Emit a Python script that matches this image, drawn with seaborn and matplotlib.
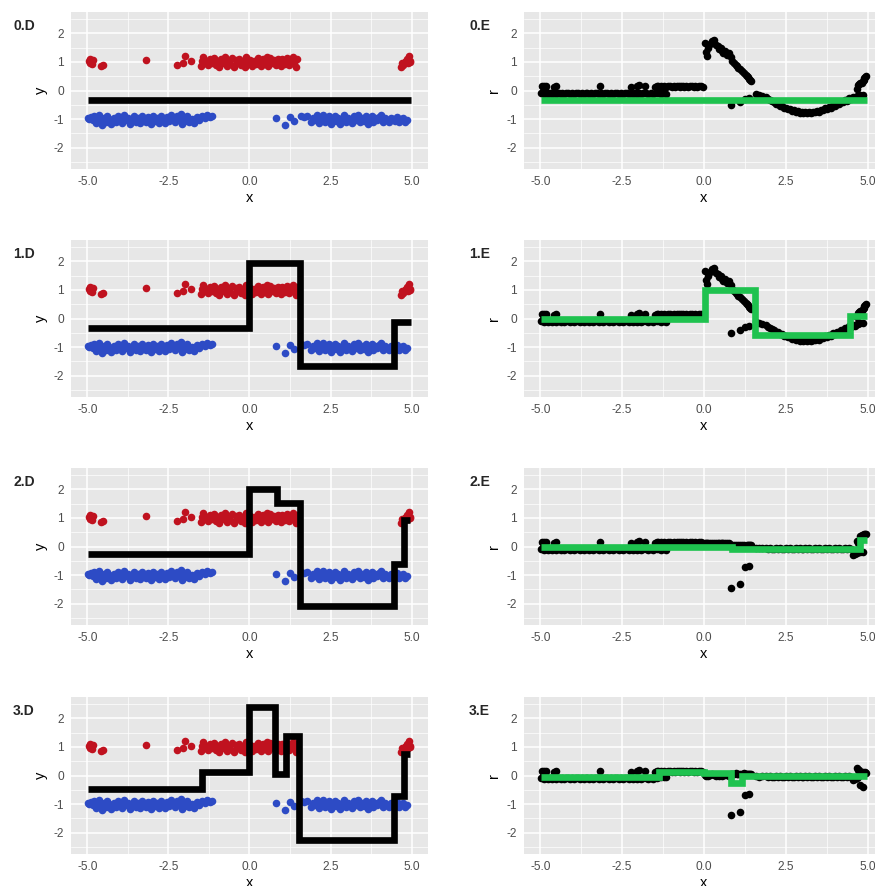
import pandas as pd
import matplotlib.pyplot as plt
import seaborn as sns

# --- points with label +1 (red): x, jittered y, residual r in E panels ---
red_x = [-4.95, -4.92, -4.9, -4.87, -4.85, -4.82, -4.57, -4.52, -3.18, -2.24,
         -2.05, -2.0, -1.8, -1.5, -1.45, -1.42, -1.38, -1.32, -1.27, -1.22,
         -1.15, -1.1, -1.04, -0.98, -0.93, -0.88, -0.82, -0.76, -0.72, -0.7,
         -0.65, -0.6, -0.54, -0.48, -0.43, -0.37, -0.32, -0.26, -0.2, -0.15,
         -0.1, -0.04, 0.02, 0.05, 0.08, 0.13, 0.19, 0.25, 0.3, 0.36,
         0.42, 0.47, 0.53, 0.55, 0.58, 0.64, 0.7, 0.75, 0.81, 0.87,
         0.92, 0.98, 1.0, 1.04, 1.1, 1.16, 1.22, 1.28, 1.3, 1.33,
         1.38, 1.42, 1.45, 4.66, 4.7, 4.73, 4.78, 4.82, 4.86, 4.88,
         4.9, 4.93, 4.96]
red_y = [1.05, 0.98, 1.12, 1.0, 0.92, 1.08, 0.85, 0.88, 1.08, 0.9,
         0.98, 1.2, 1.05, 0.85, 1.02, 1.18, 0.95, 1.05, 0.88, 1.12,
         0.98, 1.15, 0.9, 1.05, 0.83, 1.12, 0.97, 1.18, 1.0, 0.86,
         1.03, 0.92, 1.15, 0.84, 1.06, 0.95, 1.1, 0.88, 1.02, 0.83,
         1.16, 0.95, 1.08, 0.95, 0.87, 1.04, 0.92, 1.13, 0.98, 0.85,
         1.1, 0.94, 1.02, 1.18, 0.86, 1.15, 0.96, 1.07, 0.88, 1.12,
         0.99, 0.85, 1.1, 1.05, 0.93, 1.14, 0.9, 1.08, 0.95, 1.16,
         0.96, 0.84, 1.12, 0.82, 0.95, 0.9, 1.0, 1.05, 1.12, 0.95,
         1.2, 1.0, 1.02]
red_r0 = [0.15, 0.12, 0.17, 0.14, 0.1, 0.16, 0.13, 0.15, 0.15, 0.12,
          0.15, 0.18, 0.15, 0.13, 0.16, 0.15, 0.12, 0.17, 0.14, 0.16,
          0.13, 0.15, 0.17, 0.14, 0.16, 0.13, 0.15, 0.17, 0.14, 0.16,
          0.15, 0.13, 0.17, 0.14, 0.16, 0.15, 0.13, 0.17, 0.14, 0.16,
          0.15, 0.13, 1.65, 1.35, 1.2, 1.5, 1.62, 1.72, 1.78, 1.6,
          1.55, 1.45, 1.5, 1.38, 1.3, 1.4, 1.25, 1.3, 1.18, 1.05,
          0.98, 0.9, 0.85, 0.8, 0.75, 0.7, 0.62, 0.55, 0.52, 0.48,
          0.42, 0.38, 0.35, 0.05, 0.2, 0.22, 0.25, 0.28, 0.35, 0.38,
          0.45, 0.48, 0.52]
red_r2 = [0.15, 0.12, 0.17, 0.14, 0.1, 0.16, 0.13, 0.15, 0.15, 0.12,
          0.15, 0.18, 0.15, 0.13, 0.16, 0.15, 0.12, 0.17, 0.14, 0.16,
          0.13, 0.15, 0.17, 0.14, 0.16, 0.13, 0.15, 0.17, 0.14, 0.16,
          0.15, 0.13, 0.17, 0.14, 0.16, 0.15, 0.13, 0.17, 0.14, 0.16,
          0.15, 0.13, 0.14, 0.12, 0.13, 0.11, 0.14, 0.12, 0.13, 0.11,
          0.14, 0.12, 0.13, 0.11, 0.14, 0.12, 0.13, 0.11, 0.06, 0.04,
          0.07, 0.05, 0.03, 0.06, 0.04, 0.07, 0.05, 0.03, 0.06, 0.04,
          0.07, 0.05, 0.04, 0.2, 0.12, 0.15, 0.38, 0.4, 0.42, 0.4,
          0.44, 0.45, 0.43]
red_r3 = [0.15, 0.12, 0.17, 0.14, 0.1, 0.16, 0.13, 0.15, 0.15, 0.12,
          0.15, 0.18, 0.15, 0.12, 0.15, 0.15, 0.12, 0.17, 0.14, 0.16,
          0.13, 0.15, 0.17, 0.14, 0.16, 0.13, 0.15, 0.17, 0.14, 0.16,
          0.15, 0.13, 0.17, 0.14, 0.16, 0.15, 0.13, 0.17, 0.14, 0.16,
          0.15, 0.13, 0.02, 0.0, 0.03, -0.01, 0.02, 0.04, 0.01, -0.02,
          0.03, 0.0, 0.02, -0.01, 0.03, 0.01, 0.02, -0.02, 0.05, 0.07,
          0.06, 0.08, 0.05, 0.07, 0.04, 0.06, 0.08, 0.05, 0.07, 0.04,
          0.06, 0.05, 0.07, 0.25, 0.2, 0.18, 0.12, 0.1, 0.11, 0.09,
          0.1, 0.12, 0.1]

# --- points with label -1 (blue) ---
blue_x = [-4.98, -4.93, -4.88, -4.83, -4.78, -4.73, -4.68, -4.63, -4.58, -4.53,
          -4.48, -4.43, -4.38, -4.33, -4.28, -4.22, -4.16, -4.1, -4.04, -3.98,
          -3.92, -3.86, -3.8, -3.74, -3.68, -3.62, -3.56, -3.5, -3.44, -3.38,
          -3.32, -3.26, -3.2, -3.14, -3.08, -3.02, -2.96, -2.9, -2.84, -2.78,
          -2.72, -2.66, -2.6, -2.54, -2.48, -2.42, -2.36, -2.3, -2.24, -2.18,
          -2.12, -2.08, -2.04, -1.98, -1.92, -1.85, -1.78, -1.7, -1.62, -1.55,
          -1.45, -1.38, -1.3, -1.22, -1.15, 0.82, 1.09, 1.25, 1.37, 1.6,
          1.68, 1.76, 1.9, 1.96, 2.02, 2.08, 2.14, 2.2, 2.26, 2.32,
          2.38, 2.44, 2.5, 2.56, 2.62, 2.68, 2.74, 2.8, 2.86, 2.92,
          2.98, 3.04, 3.1, 3.16, 3.22, 3.28, 3.34, 3.4, 3.46, 3.52,
          3.58, 3.64, 3.7, 3.76, 3.82, 3.88, 3.94, 4.0, 4.06, 4.12,
          4.18, 4.24, 4.3, 4.36, 4.42, 4.48, 4.54, 4.6, 4.66, 4.72,
          4.78, 4.85]
blue_y = [-0.95, -1.0, -0.92, -1.05, -0.9, -1.15, -1.0, -0.85, -1.08, -1.2,
          -0.95, -1.12, -0.88, -1.0, -1.18, -1.05, -0.98, -1.12, -0.9, -1.02,
          -1.15, -0.85, -1.05, -0.95, -1.18, -1.0, -0.88, -1.1, -0.97, -1.15,
          -0.9, -1.05, -1.12, -0.93, -1.0, -1.16, -0.88, -1.08, -0.97, -1.13,
          -0.9, -1.03, -1.15, -0.92, -1.06, -0.85, -1.0, -1.12, -0.9, -1.05,
          -0.82, -1.18, -0.95, -1.08, -0.9, -1.12, -1.0, -1.15, -0.92, -1.05,
          -0.88, -0.98, -0.85, -0.92, -0.9, -0.96, -1.2, -0.92, -1.08, -0.88,
          -0.92, -0.9, -1.1, -0.95, -1.05, -0.85, -1.15, -0.98, -0.85, -1.1,
          -1.0, -0.9, -1.16, -1.02, -0.88, -1.08, -0.95, -1.18, -1.0, -0.86,
          -1.1, -0.95, -1.05, -1.15, -0.9, -1.02, -0.85, -1.12, -0.98, -1.08,
          -0.9, -1.18, -1.0, -0.88, -1.1, -0.95, -1.05, -0.92, -0.85, -1.1,
          -0.98, -1.05, -1.12, -0.95, -1.0, -1.08, -0.92, -1.12, -1.0, -0.95,
          -1.1, -1.02]
blue_r0 = [-0.1, -0.08, -0.12, -0.09, -0.11, -0.1, -0.08, -0.12, -0.09, -0.11,
           -0.1, -0.08, -0.12, -0.09, -0.11, -0.1, -0.08, -0.12, -0.09, -0.11,
           -0.1, -0.08, -0.12, -0.09, -0.11, -0.1, -0.08, -0.12, -0.09, -0.11,
           -0.1, -0.08, -0.12, -0.09, -0.11, -0.1, -0.08, -0.12, -0.09, -0.11,
           -0.1, -0.08, -0.12, -0.09, -0.11, -0.1, -0.08, -0.12, -0.09, -0.11,
           -0.1, -0.08, -0.12, -0.09, -0.11, -0.1, -0.08, -0.12, -0.09, -0.11,
           -0.1, -0.08, -0.12, -0.09, -0.11, -0.5, -0.42, -0.3, -0.25, -0.12,
           -0.15, -0.2, -0.24, -0.3, -0.32, -0.38, -0.4, -0.46, -0.47, -0.54,
           -0.55, -0.6, -0.6, -0.66, -0.65, -0.71, -0.7, -0.76, -0.73, -0.79,
           -0.75, -0.8, -0.77, -0.8, -0.76, -0.79, -0.74, -0.77, -0.71, -0.74,
           -0.68, -0.7, -0.63, -0.65, -0.58, -0.6, -0.52, -0.55, -0.46, -0.48,
           -0.4, -0.42, -0.34, -0.36, -0.28, -0.31, -0.24, -0.25, -0.2, -0.21,
           -0.16, -0.17]
blue_r2 = [-0.1, -0.08, -0.12, -0.09, -0.11, -0.1, -0.08, -0.12, -0.09, -0.11,
           -0.1, -0.08, -0.12, -0.09, -0.11, -0.1, -0.08, -0.12, -0.09, -0.11,
           -0.1, -0.08, -0.12, -0.09, -0.11, -0.1, -0.08, -0.12, -0.09, -0.11,
           -0.1, -0.08, -0.12, -0.09, -0.11, -0.1, -0.08, -0.12, -0.09, -0.11,
           -0.1, -0.08, -0.12, -0.09, -0.11, -0.1, -0.08, -0.12, -0.09, -0.11,
           -0.1, -0.08, -0.12, -0.09, -0.11, -0.1, -0.08, -0.12, -0.09, -0.11,
           -0.1, -0.08, -0.12, -0.09, -0.11, -1.46, -1.32, -0.72, -0.68, -0.05,
           -0.06, -0.05, -0.06, -0.09, -0.05, -0.08, -0.1, -0.06, -0.09, -0.05,
           -0.08, -0.1, -0.06, -0.09, -0.05, -0.08, -0.1, -0.06, -0.09, -0.05,
           -0.08, -0.1, -0.06, -0.09, -0.05, -0.08, -0.1, -0.06, -0.09, -0.05,
           -0.08, -0.1, -0.06, -0.09, -0.05, -0.08, -0.1, -0.06, -0.09, -0.05,
           -0.08, -0.1, -0.06, -0.09, -0.05, -0.08, -0.3, -0.26, -0.22, -0.15,
           -0.2, -0.18]
blue_r3 = [-0.1, -0.08, -0.12, -0.09, -0.11, -0.1, -0.08, -0.12, -0.09, -0.11,
           -0.1, -0.08, -0.12, -0.09, -0.11, -0.1, -0.08, -0.12, -0.09, -0.11,
           -0.1, -0.08, -0.12, -0.09, -0.11, -0.1, -0.08, -0.12, -0.09, -0.11,
           -0.1, -0.08, -0.12, -0.09, -0.11, -0.1, -0.08, -0.12, -0.09, -0.11,
           -0.1, -0.08, -0.12, -0.09, -0.11, -0.1, -0.08, -0.12, -0.09, -0.11,
           -0.1, -0.08, -0.12, -0.09, -0.11, -0.1, -0.08, -0.12, -0.09, -0.11,
           -0.1, -0.06, -0.07, -0.05, -0.07, -1.4, -1.28, -0.7, -0.65, -0.03,
           -0.04, -0.03, -0.02, -0.05, -0.03, -0.06, -0.04, -0.02, -0.05, -0.03,
           -0.06, -0.04, -0.02, -0.05, -0.03, -0.06, -0.04, -0.02, -0.05, -0.03,
           -0.06, -0.04, -0.02, -0.05, -0.03, -0.06, -0.04, -0.02, -0.05, -0.03,
           -0.06, -0.04, -0.02, -0.05, -0.03, -0.06, -0.04, -0.02, -0.05, -0.03,
           -0.06, -0.04, -0.02, -0.05, -0.03, -0.06, -0.15, -0.12, -0.1, -0.05,
           -0.35, -0.42]

# --- model prediction steps (D panels) and fitted tree steps (E panels) ---
d_edges = [[-4.98, 4.98],
           [-4.98, 0.0, 1.55, 4.45, 4.98],
           [-4.98, 0.0, 0.84, 1.55, 4.45, 4.76, 4.94],
           [-4.98, -1.47, 0.0, 0.79, 1.12, 1.52, 4.45, 4.76, 4.96]]
d_vals = [[-0.33],
          [-0.32, 1.96, -1.67, -0.12],
          [-0.26, 2.02, 1.52, -2.1, -0.6, 0.92],
          [-0.46, 0.12, 2.4, 0.05, 1.38, -2.27, -0.73, 0.77]]
e_edges = [[-4.98, 4.98],
           [-4.98, 0.03, 1.55, 4.47, 4.98],
           [-4.98, 0.87, 4.78, 4.97],
           [-4.98, -1.39, 0.0, 0.84, 1.15, 4.98]]
e_vals = [[-0.33],
          [0.0, 1.0, -0.57, 0.09],
          [-0.02, -0.1, 0.24],
          [-0.05, 0.13, 0.09, -0.28, -0.02]]

RED = "#C0121F"
BLUE = "#2D4BC5"
GREEN = "#1FC24F"

sns.set_theme(style="darkgrid", rc={"axes.facecolor": "#E7E7E7"})
plt.rcParams["font.family"] = ["Liberation Sans", "DejaVu Sans"]

W, H = 875, 886
fig = plt.figure(figsize=(W / 100, H / 100), dpi=100)
tops = [12, 240, 468, 697]
panel_h = 157


def style_axes(ax, ylabel):
    ax.set_xlim(-5.5, 5.5)
    ax.set_ylim(-2.75, 2.75)
    ax.set_xticks([-5, -2.5, 0, 2.5, 5])
    ax.set_xticklabels(["-5.0", "-2.5", "0.0", "2.5", "5.0"])
    ax.set_xticks([-3.75, -1.25, 1.25, 3.75], minor=True)
    ax.set_yticks([-2, -1, 0, 1, 2])
    ax.set_yticklabels(["-2", "-1", "0", "1", "2"])
    ax.set_yticks([-2.5, -1.5, -0.5, 0.5, 1.5, 2.5], minor=True)
    ax.grid(which="major", color="white", linewidth=1.1)
    ax.grid(which="minor", color="white", linewidth=0.5)
    ax.tick_params(which="major", length=3, width=0.6, color="#333333",
                   labelsize=8.6, labelcolor="#4D4D4D", pad=2)
    ax.tick_params(which="minor", length=0)
    for s in ax.spines.values():
        s.set_visible(False)
    ax.set_xlabel("x", fontsize=10.5, color="black", labelpad=2)
    ax.set_ylabel(ylabel, fontsize=10.5, color="black", labelpad=4)


def step_line(ax, edges, vals, color):
    sns.lineplot(x=edges, y=vals + [vals[-1]], drawstyle="steps-post",
                 color=color, linewidth=4.8, solid_capstyle="butt",
                 solid_joinstyle="miter", ax=ax)


for i in range(4):
    bottom = 1 - (tops[i] + panel_h) / H

    # left: data + current model
    ax = fig.add_axes([71 / W, bottom, 357 / W, panel_h / H])
    sns.scatterplot(x=red_x, y=red_y, color=RED, s=30, linewidth=0, ax=ax)
    sns.scatterplot(x=blue_x, y=blue_y, color=BLUE, s=30, linewidth=0, ax=ax)
    step_line(ax, d_edges[i], d_vals[i], "black")
    style_axes(ax, "y")
    fig.text(13 / W, 1 - (tops[i] + 14) / H, f"{i}.D", fontsize=10,
             fontweight="bold", va="center", ha="left")

    # right: residuals + fitted tree
    r_red = [red_r0, red_r0, red_r2, red_r3][i]
    r_blue = [blue_r0, blue_r0, blue_r2, blue_r3][i]
    ax = fig.add_axes([524 / W, bottom, 360 / W, panel_h / H])
    sns.scatterplot(x=red_x + blue_x, y=r_red + r_blue, color="black",
                    s=30, linewidth=0, ax=ax)
    step_line(ax, e_edges[i], e_vals[i], GREEN)
    style_axes(ax, "r")
    fig.text(469 / W, 1 - (tops[i] + 14) / H, f"{i}.E", fontsize=10,
             fontweight="bold", va="center", ha="left")

plt.savefig("out.png", dpi=100)
